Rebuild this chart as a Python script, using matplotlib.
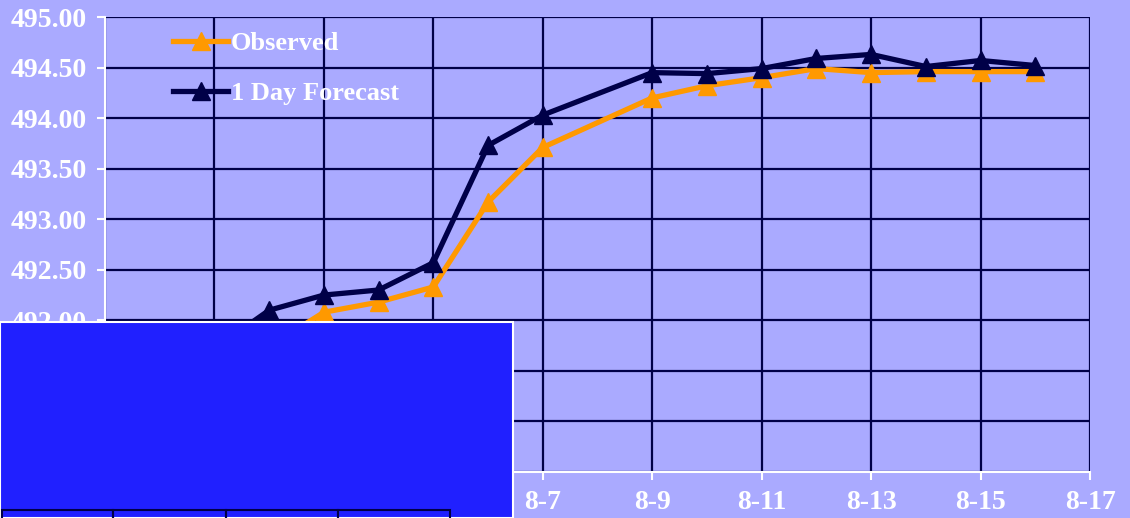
import numpy as np
import pandas as pd
import matplotlib
matplotlib.use("Agg")
import matplotlib.pyplot as plt
from matplotlib.patches import Rectangle

# daily lake levels (8-8 has no reading)
dates = ['7-30', '7-31', '8-1', '8-2', '8-3', '8-4', '8-5', '8-6', '8-7',
         '8-9', '8-10', '8-11', '8-12', '8-13', '8-14', '8-15', '8-16']
observed = [491.55, 491.60, 491.66, 491.74, 492.08, 492.18, 492.33, 493.17, 493.71,
            494.20, 494.32, 494.40, 494.49, 494.45, 494.46, 494.46, 494.46]
forecast = [491.60, 491.65, 491.72, 492.10, 492.25, 492.30, 492.57, 493.73, 494.03,
            494.45, 494.44, 494.49, 494.59, 494.63, 494.51, 494.57, 494.52]
tick_labels = ['7-30', '8-1', '8-3', '8-5', '8-7', '8-9', '8-11', '8-13', '8-15', '8-17']
y_ticks = np.arange(490.5, 495.01, 0.5)

start = pd.Timestamp('2003-07-30')
day = [(pd.Timestamp('2003-' + d) - start).days for d in dates]
tick_pos = [(pd.Timestamp('2003-' + d) - start).days for d in tick_labels]

bg = '#aaaaff'
navy = '#000048'
orange = '#ff9900'
font = 'Liberation Serif'

fig = plt.figure(figsize=(11.30, 5.18), dpi=100, facecolor=bg)
ax = fig.add_axes([105 / 1130, 46 / 518, 985 / 1130, 455 / 518])
ax.set_facecolor(bg)

ax.plot(day, observed, color=orange, lw=3.8, marker='^', ms=13, label='Observed', zorder=3)
ax.plot(day, forecast, color=navy, lw=3.8, marker='^', ms=13, label='1 Day Forecast', zorder=4)

ax.set_xlim(tick_pos[0], tick_pos[-1])
ax.set_ylim(y_ticks[0], y_ticks[-1])
ax.set_xticks(tick_pos)
ax.set_xticklabels(tick_labels)
ax.set_yticks(y_ticks)
ax.set_yticklabels(['%.2f' % v for v in y_ticks])
ax.grid(True, color=navy, lw=1.6, zorder=0)

for s in ['top', 'right']:
    ax.spines[s].set_visible(False)
for s in ['left', 'bottom']:
    ax.spines[s].set_color('white')
    ax.spines[s].set_linewidth(1.5)
ax.tick_params(colors='white', width=1.5, length=6, pad=7)
for lab in ax.get_xticklabels() + ax.get_yticklabels():
    lab.set_fontfamily(font)
    lab.set_fontweight('bold')
    lab.set_fontsize(20)
    lab.set_color('white')

leg = ax.legend(loc='upper left', bbox_to_anchor=(0.045, 1.02), frameon=False,
                handlelength=2.1, handletextpad=0.1, labelspacing=1.0,
                prop={'family': font, 'weight': 'bold', 'size': 19})
for t in leg.get_texts():
    t.set_color('white')

# blue panel with table across the lower left
fig.add_artist(Rectangle((0, 0), 513 / 1130, 196 / 518, transform=fig.transFigure,
                         facecolor='#2020ff', edgecolor='white', lw=1.5, zorder=10))
for x0, x1 in [(2, 113), (113, 226), (226, 338), (338, 450)]:
    fig.add_artist(Rectangle((x0 / 1130, -10 / 518), (x1 - x0) / 1130, 18 / 518,
                             transform=fig.transFigure, facecolor='none',
                             edgecolor=navy, lw=1.5, zorder=11))

fig.savefig('out.png', dpi=100, facecolor=bg)
